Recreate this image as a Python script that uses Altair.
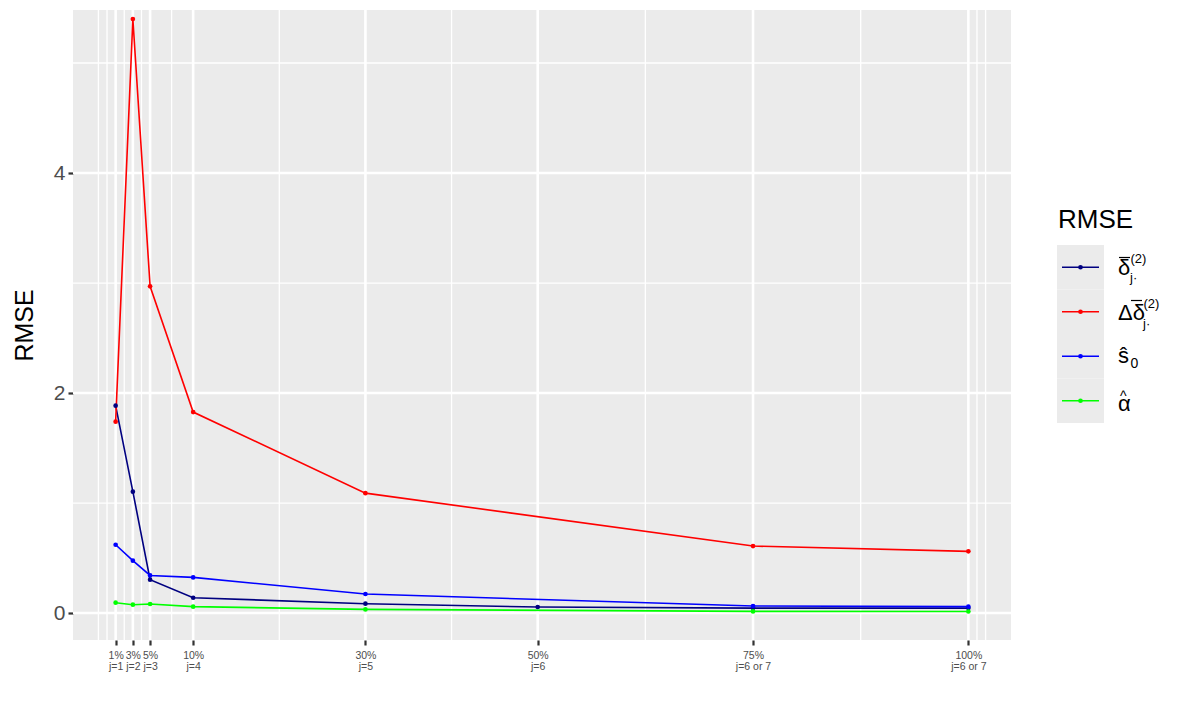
import altair as alt
import pandas as pd

# ---- data ----
pct = [1, 3, 5, 10, 30, 50, 75, 100]
j_labels = ["j=1", "j=2", "j=3", "j=4", "j=5", "j=6", "j=6 or 7", "j=6 or 7"]
series = ["delta", "ddelta", "s0", "alpha"]
colors = ["#000080", "#FF0000", "#0000FF", "#00FF00"]

delta_rmse = [1.885, 1.103, 0.303, 0.139, 0.085, 0.055, 0.045, 0.045]
ddelta_rmse = [1.74, 5.40, 2.97, 1.827, 1.09, None, 0.609, 0.561]
s0_rmse = [0.621, 0.476, 0.342, 0.324, 0.173, None, 0.064, 0.058]
alpha_rmse = [0.094, 0.076, 0.082, 0.058, 0.033, None, 0.015, 0.014]

y_major = [0, 2, 4]
y_minor = [1, 3, 5]
x_minor = [-1, 0, 2, 4, 7.5, 20, 40, 62.5, 87.5, 101, 102]

rows = []
for name, vals in zip(series, [delta_rmse, ddelta_rmse, s0_rmse, alpha_rmse]):
    for p, v in zip(pct, vals):
        if v is not None:
            rows.append({"series": name, "pct": p, "rmse": v})
df = pd.DataFrame(rows)

W, H = 938, 630
xdom = [-3.95, 104.95]
ydom = [-0.245, 5.482]
xs = alt.Scale(domain=xdom, nice=False, zero=False)
ys = alt.Scale(domain=ydom, nice=False, zero=False)
cs = alt.Scale(domain=series, range=colors)

label_expr = (
    "[datum.value + '%', " + str(j_labels) + "[indexof(" + str(pct) + ", datum.value)]]"
)

xaxis = alt.Axis(values=pct, labelExpr=label_expr, grid=False, domain=False,
                 tickColor="#333333", tickSize=5, tickWidth=2.2,
                 labelFontSize=10.5, labelColor="#4D4D4D", labelLineHeight=11.5,
                 labelPadding=5, title=None, labelFont="Liberation Sans",
                 labelFlush=False, labelOverlap=False)
yaxis = alt.Axis(values=y_major, format="d", grid=False, domain=False,
                 tickColor="#333333", tickSize=5, tickWidth=2.2,
                 labelFontSize=21, labelColor="#4D4D4D", labelPadding=3,
                 title="RMSE", titleFontSize=25, titleFontWeight="normal",
                 titleColor="#000000", titlePadding=16, titleFont="Liberation Sans",
                 labelFont="Liberation Sans")

gx_major = alt.Chart(pd.DataFrame({"v": pct})).mark_rule(color="white", strokeWidth=2.6).encode(
    x=alt.X("v:Q", scale=xs, axis=xaxis))
gx_minor = alt.Chart(pd.DataFrame({"v": x_minor})).mark_rule(color="white", strokeWidth=1.3).encode(
    x=alt.X("v:Q", scale=xs))
gy_major = alt.Chart(pd.DataFrame({"v": y_major})).mark_rule(color="white", strokeWidth=2.6).encode(
    y=alt.Y("v:Q", scale=ys, axis=yaxis))
gy_minor = alt.Chart(pd.DataFrame({"v": y_minor})).mark_rule(color="white", strokeWidth=1.3).encode(
    y=alt.Y("v:Q", scale=ys))

lines = alt.Chart(df).mark_line(strokeWidth=1.6).encode(
    x=alt.X("pct:Q", scale=xs),
    y=alt.Y("rmse:Q", scale=ys),
    color=alt.Color("series:N", scale=cs, legend=None),
    detail="series:N",
)
pts = alt.Chart(df).mark_point(filled=True, size=22, opacity=1).encode(
    x=alt.X("pct:Q", scale=xs),
    y=alt.Y("rmse:Q", scale=ys),
    color=alt.Color("series:N", scale=cs, legend=None),
)

main = alt.layer(gy_minor, gx_minor, gy_major, gx_major, lines, pts).properties(
    width=W, height=H, view=alt.ViewBackground(fill="#EBEBEB", stroke=None))

# ---- manual legend (ggplot style) ----
leg_df = pd.DataFrame({"series": series})
ly = alt.Scale(domain=series, type="band", paddingInner=0, paddingOuter=0, range=[235, 413])
LW = 47
lcs = alt.Scale(domain=series, range=colors)

bg = alt.Chart(leg_df).mark_rect(color="#EBEBEB").encode(
    y=alt.Y("series:N", scale=ly, axis=None),
    x=alt.value(0), x2=alt.value(LW))
krule = alt.Chart(leg_df).mark_rule(strokeWidth=1.6).encode(
    y=alt.Y("series:N", scale=ly, axis=None),
    x=alt.value(5), x2=alt.value(42),
    color=alt.Color("series:N", scale=lcs, legend=None))
kpt = alt.Chart(leg_df).mark_point(filled=True, size=22, opacity=1).encode(
    y=alt.Y("series:N", scale=ly, axis=None),
    x=alt.value(23.5),
    color=alt.Color("series:N", scale=lcs, legend=None))

def piece(name, text, dx, dy, size):
    return alt.Chart(pd.DataFrame({"series": [name], "t": [text]})).mark_text(
        align="left", baseline="middle", dx=dx, dy=dy, fontSize=size,
        font="Liberation Sans", color="#000000").encode(
        y=alt.Y("series:N", scale=ly, axis=None), x=alt.value(61), text="t:N")

def bar_over(name, x0, x1, off):
    # yOffset is measured from the top of the legend row
    return alt.Chart(pd.DataFrame({"series": [name]})).mark_rule(
        color="#000000", strokeWidth=1.2).encode(
        y=alt.Y("series:N", scale=ly, axis=None), yOffset=alt.value(off),
        x=alt.value(x0), x2=alt.value(x1))

labels = [
    piece("delta", "\u03b4", 0, 1, 22),
    bar_over("delta", 62, 73, 12.5),
    piece("delta", "j\u00b7", 12, 11, 13),
    piece("delta", "(2)", 12.5, -8, 13),
    piece("ddelta", "\u0394\u03b4", 0, 1, 22),
    bar_over("ddelta", 74, 85, 11),
    piece("ddelta", "j\u00b7", 25, 12, 13),
    piece("ddelta", "(2)", 25.5, -8, 13),
    piece("s0", "\u015d", 0, 0, 22),
    piece("s0", "0", 12.5, 8, 14),
    piece("alpha", "\u03b1", 0, 3, 22),
    piece("alpha", "^", 2, -4, 14),
]
title = alt.Chart(pd.DataFrame({"series": ["delta"], "t": ["RMSE"]})).mark_text(
    align="left", baseline="middle", dy=-47, fontSize=26, font="Liberation Sans",
    color="#000000").encode(y=alt.Y("series:N", scale=ly, axis=None), x=alt.value(1), text="t:N")

legend = alt.layer(bg, krule, kpt, title, *labels).properties(
    width=LW, height=H, view=alt.ViewBackground(fill=None, stroke=None))

chart = alt.hconcat(main, legend, spacing=44).resolve_scale(
    color="independent", y="independent", x="independent"
).properties(padding={"left": 4, "top": 0, "right": 5, "bottom": 5})

chart.save("out.html", embed_options={"renderer": "svg", "actions": False})
